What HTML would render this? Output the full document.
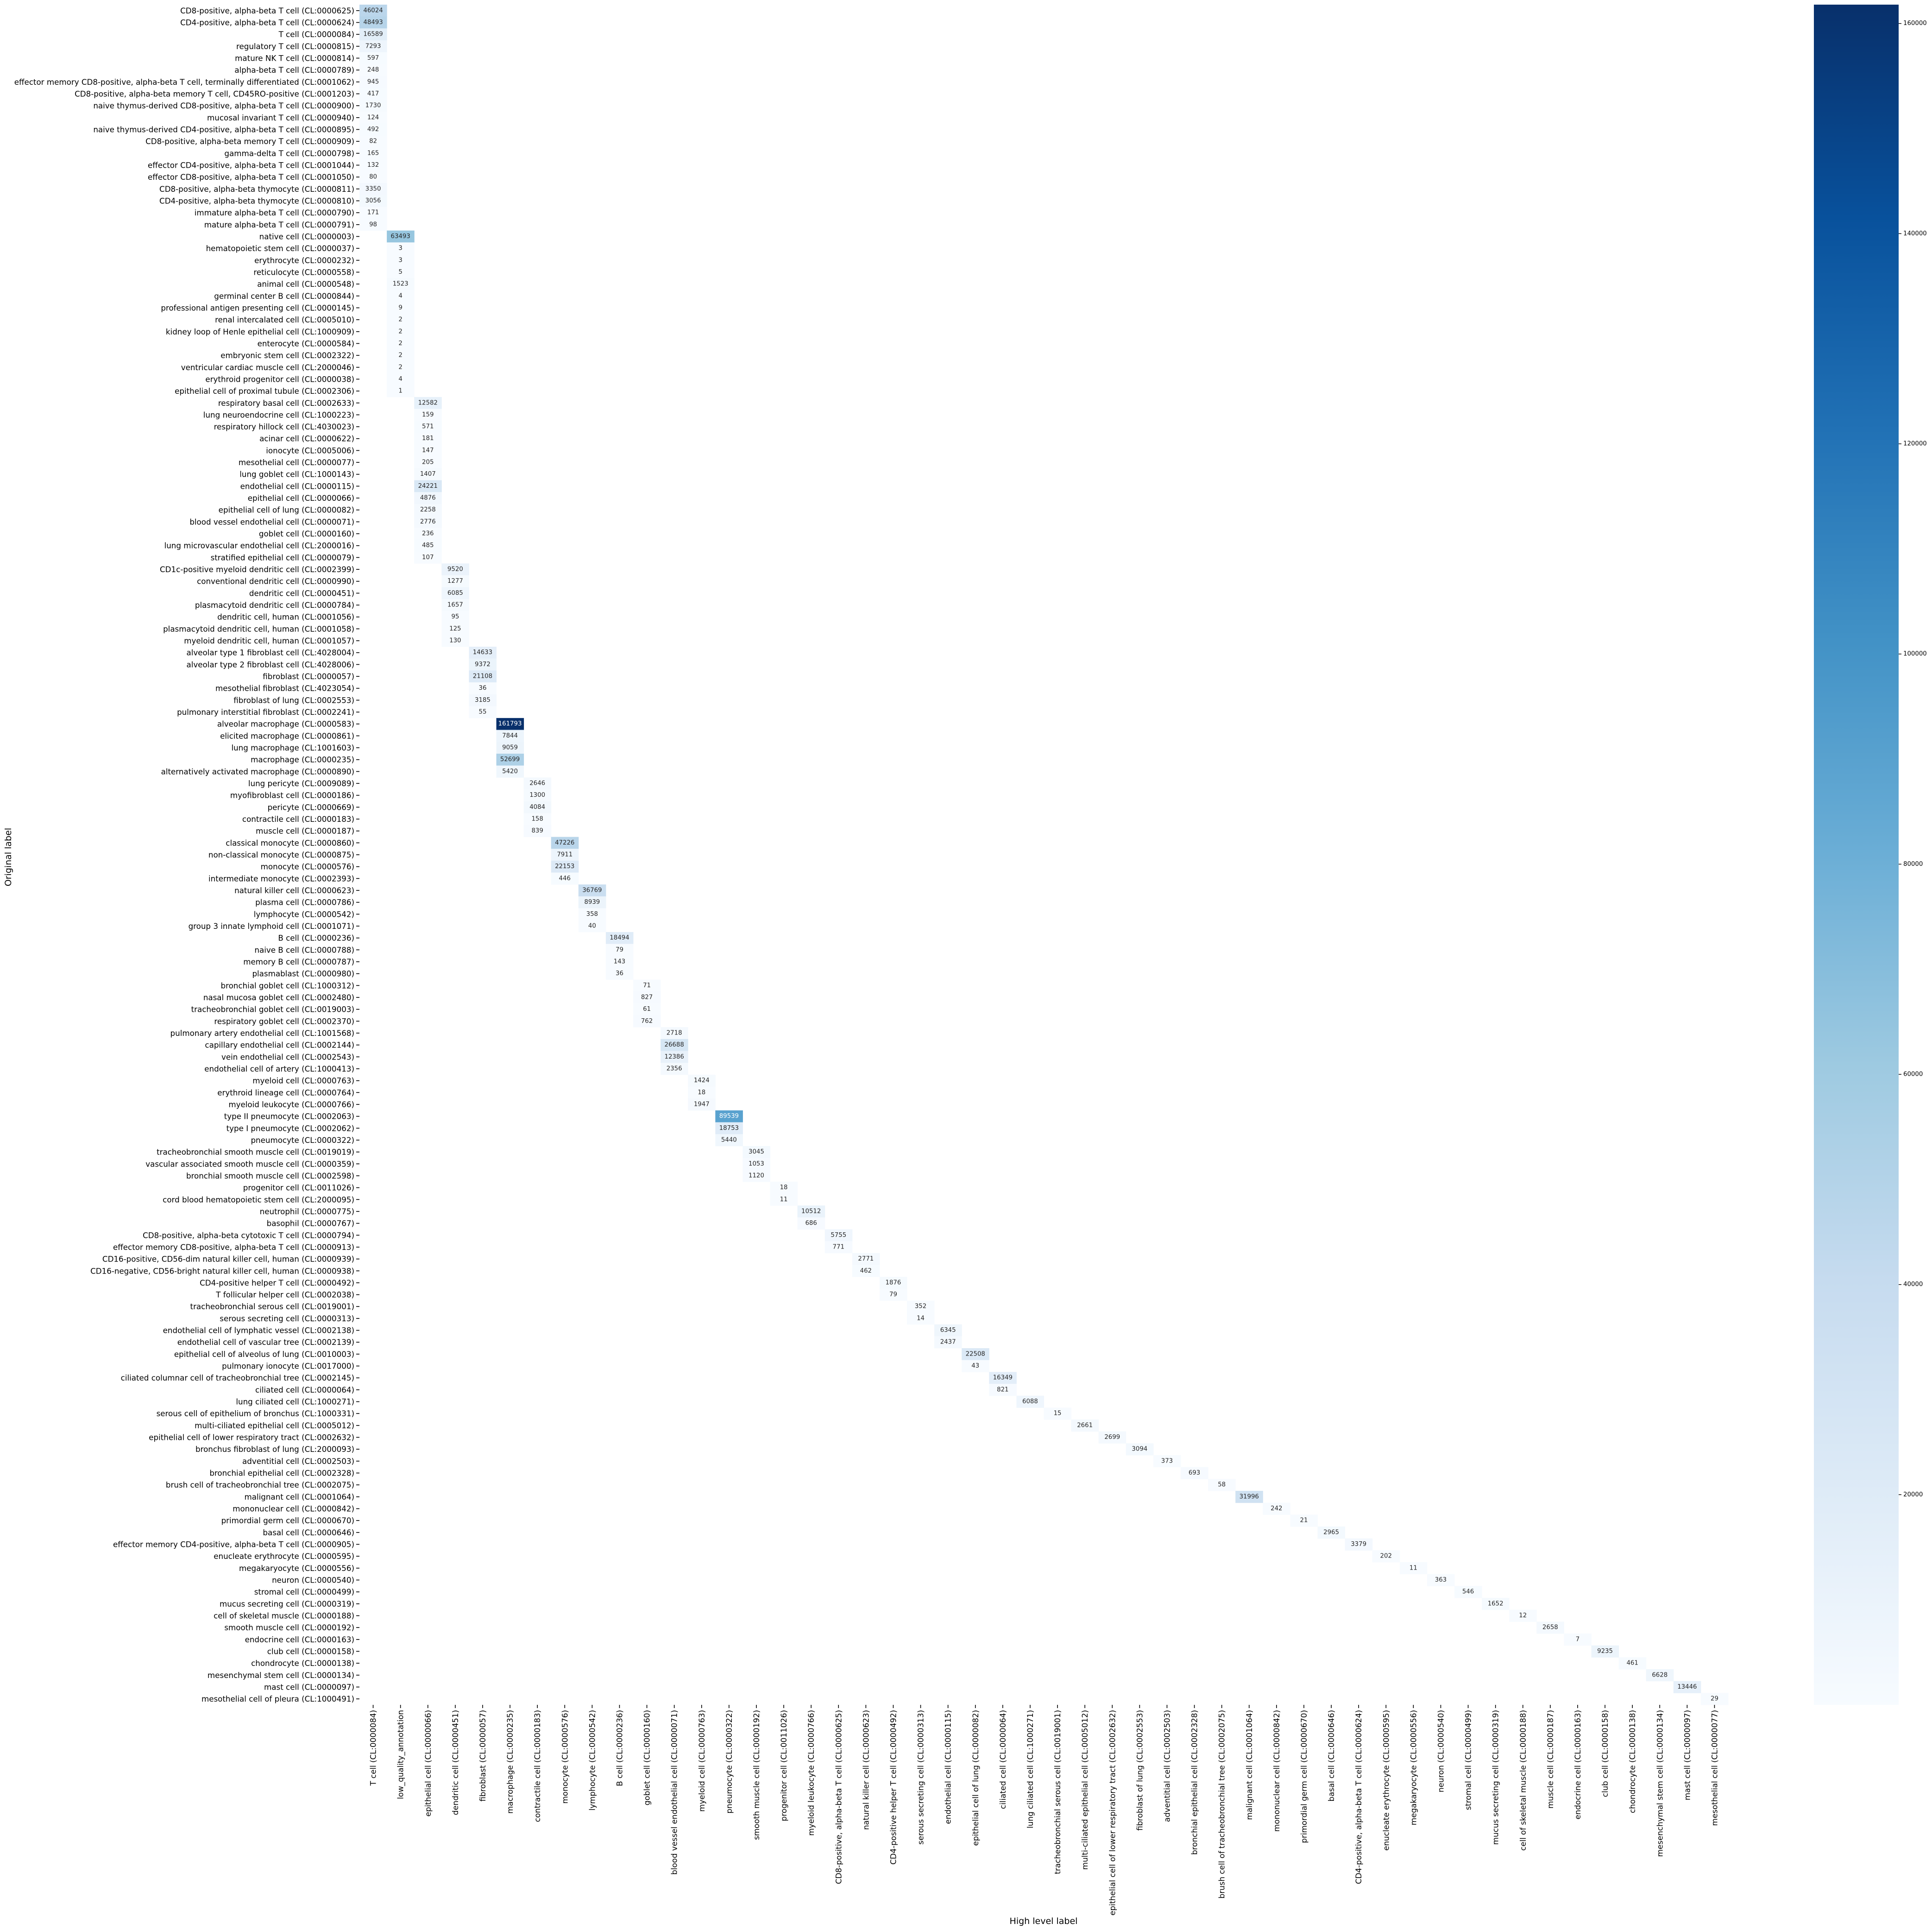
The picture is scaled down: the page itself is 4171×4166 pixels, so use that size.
<!DOCTYPE html>
<html><head><meta charset="utf-8"><style>
html,body{margin:0;padding:0;background:#fff;}
svg{display:block;font-family:"DejaVu Sans","Liberation Sans",sans-serif;}
</style></head><body>
<svg id="chart" width="4171" height="4166" viewBox="0 0 4171 4166" xmlns="http://www.w3.org/2000/svg">
<defs><linearGradient id="cbgrad" x1="0" y1="1" x2="0" y2="0">
<stop offset="0" stop-color="#f7fbff"/><stop offset="0.125" stop-color="#deebf7"/><stop offset="0.25" stop-color="#c6dbef"/><stop offset="0.375" stop-color="#9ecae1"/><stop offset="0.5" stop-color="#6baed6"/><stop offset="0.625" stop-color="#4292c6"/><stop offset="0.75" stop-color="#2171b5"/><stop offset="0.875" stop-color="#08519c"/><stop offset="1" stop-color="#08306b"/>
</linearGradient></defs>
<g id="cells"></g>
<g id="ylabels"></g>
<g id="xlabels"></g>
<text x="0" y="0" transform="translate(24,1850) rotate(-90)" text-anchor="middle" font-size="19" fill="#000">Original label</text>
<text x="2253" y="4153" text-anchor="middle" font-size="19" fill="#000">High level label</text>
<rect x="3916" y="10" width="183" height="3670" fill="url(#cbgrad)"/>
<g id="cbticks"></g>
</svg>
<script>
const columns = ["T cell (CL:0000084)","low_quality_annotation","epithelial cell (CL:0000066)","dendritic cell (CL:0000451)","fibroblast (CL:0000057)","macrophage (CL:0000235)","contractile cell (CL:0000183)","monocyte (CL:0000576)","lymphocyte (CL:0000542)","B cell (CL:0000236)","goblet cell (CL:0000160)","blood vessel endothelial cell (CL:0000071)","myeloid cell (CL:0000763)","pneumocyte (CL:0000322)","smooth muscle cell (CL:0000192)","progenitor cell (CL:0011026)","myeloid leukocyte (CL:0000766)","CD8-positive, alpha-beta T cell (CL:0000625)","natural killer cell (CL:0000623)","CD4-positive helper T cell (CL:0000492)","serous secreting cell (CL:0000313)","endothelial cell (CL:0000115)","epithelial cell of lung (CL:0000082)","ciliated cell (CL:0000064)","lung ciliated cell (CL:1000271)","tracheobronchial serous cell (CL:0019001)","multi-ciliated epithelial cell (CL:0005012)","epithelial cell of lower respiratory tract (CL:0002632)","fibroblast of lung (CL:0002553)","adventitial cell (CL:0002503)","bronchial epithelial cell (CL:0002328)","brush cell of tracheobronchial tree (CL:0002075)","malignant cell (CL:0001064)","mononuclear cell (CL:0000842)","primordial germ cell (CL:0000670)","basal cell (CL:0000646)","CD4-positive, alpha-beta T cell (CL:0000624)","enucleate erythrocyte (CL:0000595)","megakaryocyte (CL:0000556)","neuron (CL:0000540)","stromal cell (CL:0000499)","mucus secreting cell (CL:0000319)","cell of skeletal muscle (CL:0000188)","muscle cell (CL:0000187)","endocrine cell (CL:0000163)","club cell (CL:0000158)","chondrocyte (CL:0000138)","mesenchymal stem cell (CL:0000134)","mast cell (CL:0000097)","mesothelial cell (CL:0000077)"];
const rowLabels = ["CD8-positive, alpha-beta T cell (CL:0000625)","CD4-positive, alpha-beta T cell (CL:0000624)","T cell (CL:0000084)","regulatory T cell (CL:0000815)","mature NK T cell (CL:0000814)","alpha-beta T cell (CL:0000789)","effector memory CD8-positive, alpha-beta T cell, terminally differentiated (CL:0001062)","CD8-positive, alpha-beta memory T cell, CD45RO-positive (CL:0001203)","naive thymus-derived CD8-positive, alpha-beta T cell (CL:0000900)","mucosal invariant T cell (CL:0000940)","naive thymus-derived CD4-positive, alpha-beta T cell (CL:0000895)","CD8-positive, alpha-beta memory T cell (CL:0000909)","gamma-delta T cell (CL:0000798)","effector CD4-positive, alpha-beta T cell (CL:0001044)","effector CD8-positive, alpha-beta T cell (CL:0001050)","CD8-positive, alpha-beta thymocyte (CL:0000811)","CD4-positive, alpha-beta thymocyte (CL:0000810)","immature alpha-beta T cell (CL:0000790)","mature alpha-beta T cell (CL:0000791)",
"native cell (CL:0000003)","hematopoietic stem cell (CL:0000037)","erythrocyte (CL:0000232)","reticulocyte (CL:0000558)","animal cell (CL:0000548)","germinal center B cell (CL:0000844)","professional antigen presenting cell (CL:0000145)","renal intercalated cell (CL:0005010)","kidney loop of Henle epithelial cell (CL:1000909)","enterocyte (CL:0000584)","embryonic stem cell (CL:0002322)","ventricular cardiac muscle cell (CL:2000046)","erythroid progenitor cell (CL:0000038)","epithelial cell of proximal tubule (CL:0002306)",
"respiratory basal cell (CL:0002633)","lung neuroendocrine cell (CL:1000223)","respiratory hillock cell (CL:4030023)","acinar cell (CL:0000622)","ionocyte (CL:0005006)","mesothelial cell (CL:0000077)","lung goblet cell (CL:1000143)","endothelial cell (CL:0000115)","epithelial cell (CL:0000066)","epithelial cell of lung (CL:0000082)","blood vessel endothelial cell (CL:0000071)","goblet cell (CL:0000160)","lung microvascular endothelial cell (CL:2000016)","stratified epithelial cell (CL:0000079)",
"CD1c-positive myeloid dendritic cell (CL:0002399)","conventional dendritic cell (CL:0000990)","dendritic cell (CL:0000451)","plasmacytoid dendritic cell (CL:0000784)","dendritic cell, human (CL:0001056)","plasmacytoid dendritic cell, human (CL:0001058)","myeloid dendritic cell, human (CL:0001057)",
"alveolar type 1 fibroblast cell (CL:4028004)","alveolar type 2 fibroblast cell (CL:4028006)","fibroblast (CL:0000057)","mesothelial fibroblast (CL:4023054)","fibroblast of lung (CL:0002553)","pulmonary interstitial fibroblast (CL:0002241)",
"alveolar macrophage (CL:0000583)","elicited macrophage (CL:0000861)","lung macrophage (CL:1001603)","macrophage (CL:0000235)","alternatively activated macrophage (CL:0000890)",
"lung pericyte (CL:0009089)","myofibroblast cell (CL:0000186)","pericyte (CL:0000669)","contractile cell (CL:0000183)","muscle cell (CL:0000187)",
"classical monocyte (CL:0000860)","non-classical monocyte (CL:0000875)","monocyte (CL:0000576)","intermediate monocyte (CL:0002393)",
"natural killer cell (CL:0000623)","plasma cell (CL:0000786)","lymphocyte (CL:0000542)","group 3 innate lymphoid cell (CL:0001071)",
"B cell (CL:0000236)","naive B cell (CL:0000788)","memory B cell (CL:0000787)","plasmablast (CL:0000980)",
"bronchial goblet cell (CL:1000312)","nasal mucosa goblet cell (CL:0002480)","tracheobronchial goblet cell (CL:0019003)","respiratory goblet cell (CL:0002370)",
"pulmonary artery endothelial cell (CL:1001568)","capillary endothelial cell (CL:0002144)","vein endothelial cell (CL:0002543)","endothelial cell of artery (CL:1000413)",
"myeloid cell (CL:0000763)","erythroid lineage cell (CL:0000764)","myeloid leukocyte (CL:0000766)",
"type II pneumocyte (CL:0002063)","type I pneumocyte (CL:0002062)","pneumocyte (CL:0000322)",
"tracheobronchial smooth muscle cell (CL:0019019)","vascular associated smooth muscle cell (CL:0000359)","bronchial smooth muscle cell (CL:0002598)",
"progenitor cell (CL:0011026)","cord blood hematopoietic stem cell (CL:2000095)",
"neutrophil (CL:0000775)","basophil (CL:0000767)",
"CD8-positive, alpha-beta cytotoxic T cell (CL:0000794)","effector memory CD8-positive, alpha-beta T cell (CL:0000913)",
"CD16-positive, CD56-dim natural killer cell, human (CL:0000939)","CD16-negative, CD56-bright natural killer cell, human (CL:0000938)",
"CD4-positive helper T cell (CL:0000492)","T follicular helper cell (CL:0002038)",
"tracheobronchial serous cell (CL:0019001)","serous secreting cell (CL:0000313)",
"endothelial cell of lymphatic vessel (CL:0002138)","endothelial cell of vascular tree (CL:0002139)",
"epithelial cell of alveolus of lung (CL:0010003)","pulmonary ionocyte (CL:0017000)",
"ciliated columnar cell of tracheobronchial tree (CL:0002145)","ciliated cell (CL:0000064)",
"lung ciliated cell (CL:1000271)","serous cell of epithelium of bronchus (CL:1000331)","multi-ciliated epithelial cell (CL:0005012)","epithelial cell of lower respiratory tract (CL:0002632)","bronchus fibroblast of lung (CL:2000093)","adventitial cell (CL:0002503)","bronchial epithelial cell (CL:0002328)","brush cell of tracheobronchial tree (CL:0002075)","malignant cell (CL:0001064)","mononuclear cell (CL:0000842)","primordial germ cell (CL:0000670)","basal cell (CL:0000646)","effector memory CD4-positive, alpha-beta T cell (CL:0000905)","enucleate erythrocyte (CL:0000595)","megakaryocyte (CL:0000556)","neuron (CL:0000540)","stromal cell (CL:0000499)","mucus secreting cell (CL:0000319)","cell of skeletal muscle (CL:0000188)","smooth muscle cell (CL:0000192)","endocrine cell (CL:0000163)","club cell (CL:0000158)","chondrocyte (CL:0000138)","mesenchymal stem cell (CL:0000134)","mast cell (CL:0000097)","mesothelial cell of pleura (CL:1000491)"];
const rowColumn = [0,0,0,0,0,0,0,0,0,0,0,0,0,0,0,0,0,0,0, 1,1,1,1,1,1,1,1,1,1,1,1,1,1, 2,2,2,2,2,2,2,2,2,2,2,2,2,2, 3,3,3,3,3,3,3, 4,4,4,4,4,4, 5,5,5,5,5, 6,6,6,6,6, 7,7,7,7, 8,8,8,8, 9,9,9,9, 10,10,10,10, 11,11,11,11, 12,12,12, 13,13,13, 14,14,14, 15,15, 16,16, 17,17, 18,18, 19,19, 20,20, 21,21, 22,22, 23,23, 24,25,26,27,28,29,30,31,32,33,34,35,36,37,38,39,40,41,42,43,44,45,46,47,48,49];
const counts = [46024,48493,16589,7293,597,248,945,417,1730,124,492,82,165,132,80,3350,3056,171,98, 63493,3,3,5,1523,4,9,2,2,2,2,2,4,1, 12582,159,571,181,147,205,1407,24221,4876,2258,2776,236,485,107, 9520,1277,6085,1657,95,125,130, 14633,9372,21108,36,3185,55, 161793,7844,9059,52699,5420, 2646,1300,4084,158,839, 47226,7911,22153,446, 36769,8939,358,40, 18494,79,143,36, 71,827,61,762, 2718,26688,12386,2356, 1424,18,1947, 89539,18753,5440, 3045,1053,1120, 18,11, 10512,686, 5755,771, 2771,462, 1876,79, 352,14, 6345,2437, 22508,43, 16349,821, 6088,15,2661,2699,3094,373,693,58,31996,242,21,2965,3379,202,11,363,546,1652,12,2658,7,9235,461,6628,13446,29];
const cbTicks = [20000,40000,60000,80000,100000,120000,140000,160000];

const NS = "http://www.w3.org/2000/svg";
const X0 = 776, X1 = 3731, Y0 = 10, Y1 = 3680;
const LABEL_FS = 16.7;
const cw = (X1 - X0) / columns.length, rh = (Y1 - Y0) / rowLabels.length;
const vmin = Math.min(...counts), vmax = Math.max(...counts);
const xOf = c => X0 + c * cw;
const yOf = r => Y0 + r * rh;
const stops = ["#f7fbff","#deebf7","#c6dbef","#9ecae1","#6baed6","#4292c6","#2171b5","#08519c","#08306b"].map(h => [parseInt(h.slice(1,3),16),parseInt(h.slice(3,5),16),parseInt(h.slice(5,7),16)]);
function blues(t){ t = Math.max(0, Math.min(1, t)) * 8; const i = Math.min(7, Math.floor(t)), f = t - i;
  return stops[i].map((v,k) => Math.round(v + (stops[i+1][k]-v)*f)); }
function lum(c){ const l = c.map(v => { v/=255; return v <= 0.03928 ? v/12.92 : Math.pow((v+0.055)/1.055, 2.4); }); return 0.2126*l[0]+0.7152*l[1]+0.0722*l[2]; }
const cbY = v => Y1 - (v - vmin) / (vmax - vmin) * (Y1 - Y0);

const cells = document.getElementById('cells');
counts.forEach((v, r) => {
  const c = rowColumn[r];
  const col = blues((v - vmin) / (vmax - vmin));
  const rect = document.createElementNS(NS, 'rect');
  
  
  rect.setAttribute('x', xOf(c)); rect.setAttribute('y', yOf(r));
  rect.setAttribute('width', cw + 0.5); rect.setAttribute('height', rh + 0.5);
  rect.setAttribute('fill', `rgb(${col})`);
  cells.appendChild(rect);
  const t = document.createElementNS(NS, 'text');
  
  
  t.setAttribute('x', xOf(c) + cw/2); t.setAttribute('y', yOf(r) + rh/2);
  t.setAttribute('text-anchor', 'middle'); t.setAttribute('dominant-baseline', 'central');
  t.setAttribute('font-size', '13.3');
  t.setAttribute('fill', lum(col) < 0.408 ? '#ffffff' : '#262626');
  t.textContent = v;
  cells.appendChild(t);
});

const yl = document.getElementById('ylabels');
rowLabels.forEach((lab, r) => {
  const y = yOf(r) + rh/2;
  const tk = document.createElementNS(NS, 'line');
  
  
  tk.setAttribute('x1', X0 - 7); tk.setAttribute('x2', X0); tk.setAttribute('y1', y); tk.setAttribute('y2', y);
  tk.setAttribute('stroke', '#000'); tk.setAttribute('stroke-width', '1.6');
  yl.appendChild(tk);
  const t = document.createElementNS(NS, 'text');
  
  
  t.setAttribute('x', X0 - 11); t.setAttribute('y', y);
  t.setAttribute('text-anchor', 'end'); t.setAttribute('dominant-baseline', 'central');
  t.setAttribute('font-size', LABEL_FS);
  t.textContent = lab;
  yl.appendChild(t);
});

const xl = document.getElementById('xlabels');
columns.forEach((lab, c) => {
  const x = xOf(c) + cw/2;
  const tk = document.createElementNS(NS, 'line');
  
  
  tk.setAttribute('x1', x); tk.setAttribute('x2', x); tk.setAttribute('y1', Y1); tk.setAttribute('y2', Y1 + 7);
  tk.setAttribute('stroke', '#000'); tk.setAttribute('stroke-width', '1.6');
  xl.appendChild(tk);
  const t = document.createElementNS(NS, 'text');
  
  
  t.setAttribute('transform', `translate(${x},${Y1 + 11}) rotate(-90)`);
  t.setAttribute('text-anchor', 'end'); t.setAttribute('dominant-baseline', 'central');
  t.setAttribute('font-size', LABEL_FS);
  t.textContent = lab;
  xl.appendChild(t);
});

const cbt = document.getElementById('cbticks');
cbTicks.forEach(v => {
  const y = cbY(v);
  const tk = document.createElementNS(NS, 'line');
  
  
  tk.setAttribute('x1', 4099); tk.setAttribute('x2', 4105); tk.setAttribute('y1', y); tk.setAttribute('y2', y);
  tk.setAttribute('stroke', '#000'); tk.setAttribute('stroke-width', '1.4');
  cbt.appendChild(tk);
  const t = document.createElementNS(NS, 'text');
  
  
  t.setAttribute('x', 4109); t.setAttribute('y', y);
  t.setAttribute('dominant-baseline', 'central');
  t.setAttribute('font-size', '13.3');
  t.textContent = v;
  cbt.appendChild(t);
});
</script>
</body></html>
